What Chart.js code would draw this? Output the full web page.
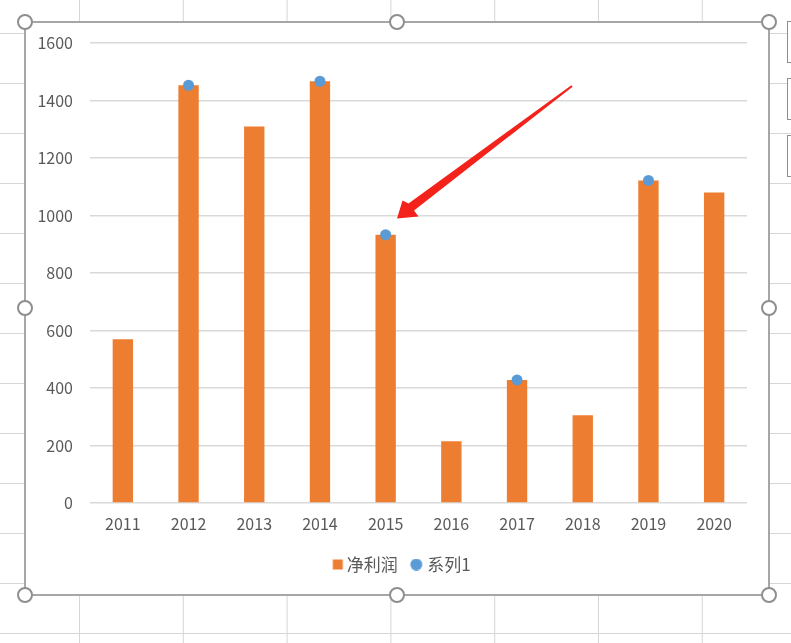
<!DOCTYPE html>
<html>
<head>
<meta charset="utf-8">
<script src="https://cdn.jsdelivr.net/npm/chart.js@4.4.1/dist/chart.umd.min.js"></script>
<style>
  html, body { margin: 0; padding: 0; }
  body {
    width: 791px; height: 643px; overflow: hidden; position: relative;
    background-color: #fff;
    background-image:
      linear-gradient(to right, #d6d6d6 1px, transparent 1px),
      linear-gradient(to bottom, #d6d6d6 1px, transparent 1px);
    background-size: 103.8px 50px, 103.8px 50px;
    background-position: 79px 0, 0 33px;
  }
  #box {
    position: absolute; left: 24px; top: 21px; width: 746px; height: 575px;
    box-sizing: border-box; border: 2px solid #a6a6a6; background: #fff;
  }
  #wrap { position: absolute; left: 26px; top: 23px; width: 742px; height: 571px; }
  .handle {
    position: absolute; width: 12px; height: 12px; border-radius: 50%;
    border: 2.5px solid #8e8e8e; background: #fff; transform: translate(-50%, -50%);
  }
  .side {
    position: absolute; left: 787px; width: 10px; height: 40px;
    border: 1px solid #8e8e8e; background: #fff;
  }
  svg { position: absolute; left: 0; top: 0; pointer-events: none; }
</style>
</head>
<body>
<div id="box"></div>
<div id="wrap"><canvas id="myChart"></canvas></div>
<div class="side" style="top:21px"></div>
<div class="side" style="top:78px"></div>
<div class="side" style="top:135px"></div>
<div class="handle" style="left:25px;top:22px"></div>
<div class="handle" style="left:397px;top:22px"></div>
<div class="handle" style="left:769px;top:22px"></div>
<div class="handle" style="left:25px;top:308px"></div>
<div class="handle" style="left:769px;top:308px"></div>
<div class="handle" style="left:25px;top:595px"></div>
<div class="handle" style="left:397px;top:595px"></div>
<div class="handle" style="left:769px;top:595px"></div>
<svg width="791" height="643">
  <polygon points="571.4,85.3 572.6,86.7 414,210.5 418.5,216.5 397,218.5 402.5,200.5 408.5,203.5" fill="#f3221b"/>
</svg>
<script>
const labels = ['2011', '2012', '2013', '2014', '2015', '2016', '2017', '2018', '2019', '2020'];
const netProfit = [570, 1453, 1310, 1467, 933, 215, 428, 305, 1122, 1080];
const series1 = [null, 1453, null, 1467, 933, null, 428, null, 1122, null];
const yTicks = [0, 200, 400, 600, 800, 1000, 1200, 1400, 1600];

const orange = '#ed7d31';
const blue = '#5b9bd5';
const font = { family: '"Noto Sans CJK SC", "Noto Sans", sans-serif', size: 16 };

// legend markers, drawn off-centre so the gaps match excel's legend
function marker(kind, color) {
    const c = document.createElement('canvas');
    c.width = 24; c.height = 12;
    const g = c.getContext('2d');
    g.fillStyle = color;
    if (kind === 'rect') {
        g.fillRect(11.5, 1, 10, 10);
    } else {
        g.beginPath(); g.arc(14.5, 6, 6, 0, Math.PI * 2); g.fill();
    }
    return c;
}

// excel centres the legend on the whole chart box, not the padded area
const legendShift = {
    id: 'legendShift',
    afterLayout(chart) {
        chart.legend.left += 13;
        chart.legend.right += 13;
    },
};

const data = {
    labels: labels,
    datasets: [{
        label: '净利润',
        data: netProfit,
        backgroundColor: orange,
        borderWidth: 0,
        categoryPercentage: 1,
        barPercentage: 0.31,
        order: 2,
    },
    {
        type: 'line',
        label: '系列1',
        data: series1,
        showLine: false,
        backgroundColor: blue,
        borderColor: blue,
        pointRadius: 5.5,
        pointBorderWidth: 0,
        order: 1,
    }]
};

const config = {
    type: 'bar',
    data: data,
    plugins: [legendShift],
    options: {
        responsive: false,
        animation: false,
        layout: { padding: { top: 20, right: 21, bottom: 11, left: 0 } },
        plugins: {
            tooltip: { enabled: false },
            legend: {
                position: 'bottom',
                labels: {
                    usePointStyle: true,
                    pointStyleWidth: 10,
                    boxHeight: 12,
                    padding: 11,
                    color: '#595959',
                    font: { family: font.family, size: 17 },
                    sort: (a, b) => a.datasetIndex - b.datasetIndex,
                    generateLabels: (chart) => {
                        const items = Chart.defaults.plugins.legend.labels.generateLabels(chart);
                        items.forEach(it => {
                            it.pointStyle = it.datasetIndex === 0 ? marker('rect', orange) : marker('circle', blue);
                        });
                        return items;
                    },
                },
            },
        },
        scales: {
            x: {
                grid: { display: false, drawTicks: false },
                border: { display: false },
                ticks: { color: '#595959', font: font, padding: 11, maxRotation: 0 },
                afterFit: (s) => { s.height = 42; s.paddingLeft = 0; s.paddingRight = 0; },
            },
            y: {
                min: 0,
                max: 1600,
                afterBuildTicks: (s) => { s.ticks = yTicks.map(v => ({ value: v })); },
                grid: { color: '#d9d9d9', lineWidth: 1.5, drawTicks: false },
                border: { display: false },
                ticks: { color: '#595959', font: font, padding: 17, callback: (v) => String(v) },
                afterFit: (s) => { s.width = 64; s.paddingTop = 0; s.paddingBottom = 0; },
            },
        },
    },
};

const cv = document.getElementById('myChart');
cv.width = 742;
cv.height = 571;
const myChart = new Chart(cv, config);
</script>
</body>
</html>
